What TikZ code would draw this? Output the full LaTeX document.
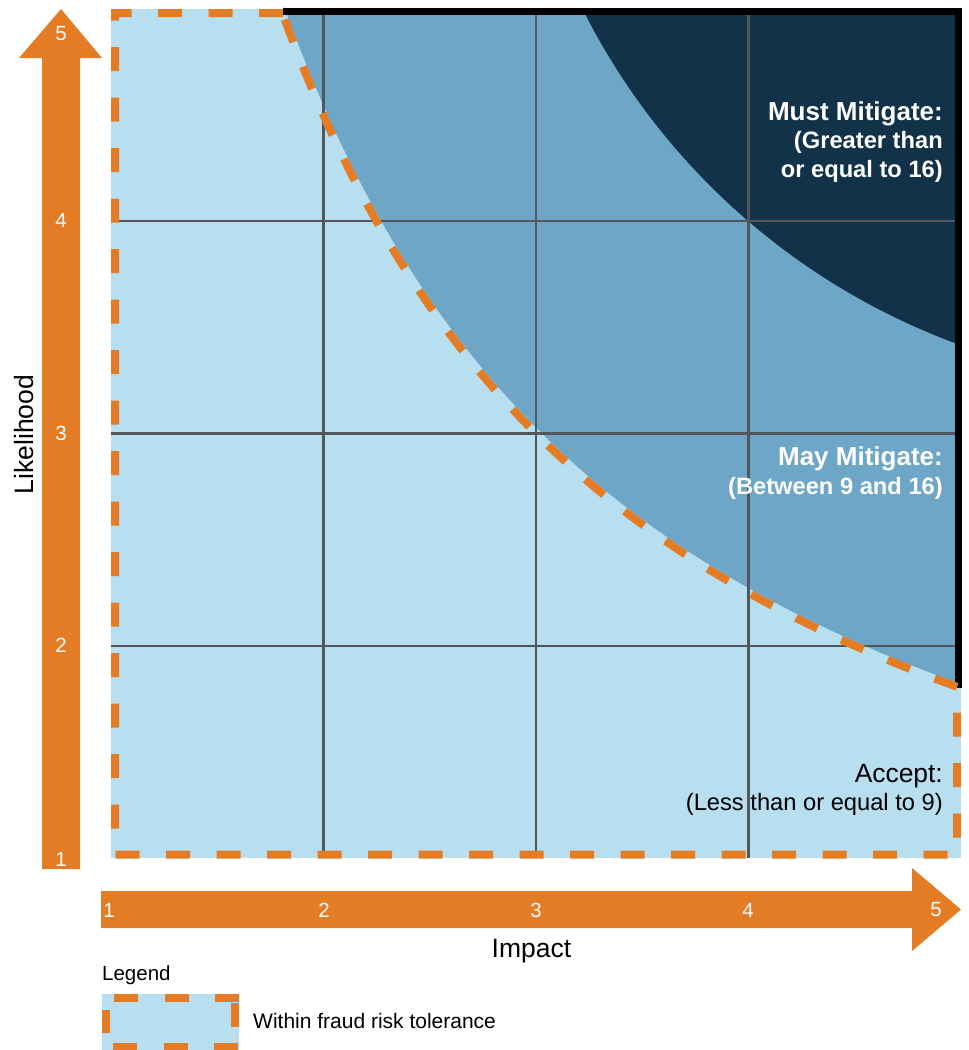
\documentclass[tikz,border=0pt]{standalone}
\usepackage{fontspec}
\setmainfont{Liberation Sans}
\definecolor{tolblue}{HTML}{B8DFF0}
\definecolor{mayblue}{HTML}{6EA6C8}
\definecolor{mustnavy}{HTML}{12324A}
\definecolor{riskorange}{HTML}{E47C25}
\definecolor{gridgray}{HTML}{53575C}
\begin{document}
\begin{tikzpicture}[x=1pt,y=-1pt,
  riskhead/.style={font=\bfseries\fontsize{26}{30}\selectfont, text=white, anchor=base east, inner sep=0pt},
  risksub/.style={font=\bfseries\fontsize{23.7}{28}\selectfont, text=white, anchor=base east, inner sep=0pt},
  acchead/.style={font=\fontsize{26.4}{30}\selectfont, text=black, anchor=base east, inner sep=0pt},
  accsub/.style={font=\fontsize{23.7}{28}\selectfont, text=black, anchor=base east, inner sep=0pt},
  axisnum/.style={font=\fontsize{20.5}{24}\selectfont, text=white, inner sep=0pt},
  axistitle/.style={font=\fontsize{26.5}{30}\selectfont, text=black, inner sep=0pt},
  tolerance/.style={draw=riskorange, line width=8pt, dash pattern=on 24pt off 26.5pt},
  gridline/.style={draw=gridgray, line width=2.2pt},
  riskfill/.style={fill=riskorange}
]
\useasboundingbox (0,0) rectangle (969,1050);

% whole matrix: accept zone
\fill[tolblue] (111,9) rectangle (961,858);

% may mitigate zone: impact x likelihood above 9
\fill[mayblue] (284,9) -- plot[domain=1.8:5, samples=120, variable=\u]
  ({114+(\u-1)*212.5}, {855-(9/\u-1)*212.25}) -- (961,685) -- (961,9) -- cycle;

% must mitigate zone
\fill[mustnavy] plot[domain=26.63:70.11, samples=80, variable=\t]
  ({1193.5-683.5*cos(\t)}, {-297.4+683.5*sin(\t)}) -- (961,9) -- cycle;

% grid
\foreach \gx in {323.5,536,748.5} \draw[gridline] (\gx,9) -- (\gx,858);
\foreach \gy in {221.25,433.5,645.75} \draw[gridline] (111,\gy) -- (961,\gy);

% outer edge of the mitigation zones
\draw[line width=7pt, black] (283,11) -- (958,11) -- (958,688);

% tolerance boundary
\draw[tolerance] (283,13) -- (115,13) -- (115,854.5) -- (957,854.5) -- (957,688)
  -- plot[domain=4.985:1.81, samples=120, variable=\u]
  ({111+(\u-1)*212.5}, {858-(9/\u-1)*212.25});

% likelihood axis arrow
\fill[riskfill] (42,869) -- (42,58) -- (19,58) -- (61,9) -- (102,58) -- (80,58) -- (80,869) -- cycle;
\node[axisnum] (l5) at (61,34) {5};
\node[axisnum] (l4) at (61,220.5) {4};
\node[axisnum] (l3) at (61,433) {3};
\node[axisnum] (l2) at (61,645) {2};
\node[axisnum] (l1) at (61,859) {1};
\node[axistitle, rotate=90, anchor=base] (likelihood) at (33,434.5) {Likelihood};

% impact axis arrow
\fill[riskfill] (101,891) -- (912,891) -- (912,868) -- (961,909.5) -- (912,951) -- (912,928) -- (101,928) -- cycle;
\node[axisnum] (i1) at (109,910) {1};
\node[axisnum] (i2) at (324,910) {2};
\node[axisnum] (i3) at (536,910) {3};
\node[axisnum] (i4) at (748,910) {4};
\node[axisnum] (i5) at (936,910) {5};
\node[axistitle, anchor=base] (impact) at (531.5,957) {Impact};

% zone labels
\node[riskhead] (must1) at (943,120) {Must Mitigate:};
\node[risksub] (must2) at (943,148) {(Greater than};
\node[risksub] (must3) at (943,177) {or equal to 16)};
\node[riskhead] (may1) at (943,465) {May Mitigate:};
\node[risksub] (may2) at (943,494) {(Between 9 and 16)};
\node[acchead] (acc1) at (943,782) {Accept:};
\node[accsub] (acc2) at (943,810) {(Less than or equal to 9)};

% legend
\node[font=\fontsize{20.5}{24}\selectfont, anchor=base west, inner sep=0pt] (legend) at (102,980) {Legend};
\fill[tolblue] (102,994) rectangle (239,1050);
\draw[tolerance] (114,998) -- (239,998);
\draw[tolerance] (235,1003) -- (235,1027);
\draw[tolerance] (106,1010) -- (106,1033);
\draw[tolerance] (113,1046.5) -- (237.5,1046.5);
\node[font=\fontsize{21}{25}\selectfont, anchor=base west, inner sep=0pt] (legendtext) at (253,1028) {Within fraud risk tolerance};
\end{tikzpicture}
\end{document}
